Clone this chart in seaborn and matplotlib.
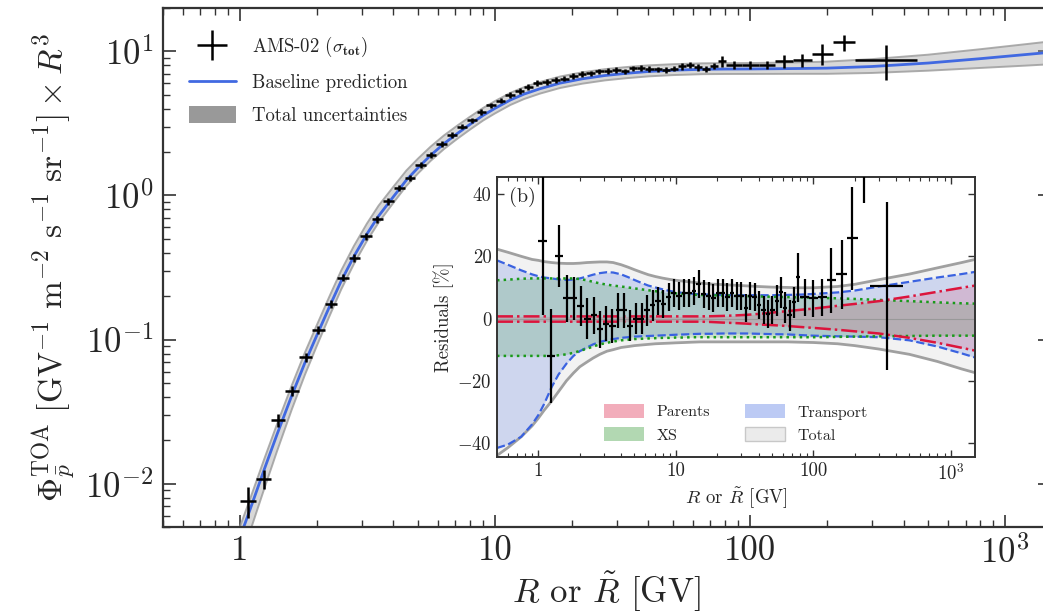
import matplotlib
matplotlib.use('Agg')  # Use non-interactive backend

import matplotlib.pyplot as plt
import matplotlib.ticker as mticker
from matplotlib.patches import Patch
from matplotlib.lines import Line2D
import numpy as np
import pandas as pd
import seaborn as sns

# AMS-02 rigidity bin edges [GV]
rig_edges = [1.00, 1.16, 1.33, 1.51, 1.71, 1.92, 2.15, 2.40, 2.67, 2.97, 3.29, 3.64,
             4.02, 4.43, 4.88, 5.37, 5.90, 6.47, 7.09, 7.76, 8.48, 9.26, 10.1, 11.0,
             12.0, 13.0, 14.1, 15.3, 16.6, 18.0, 19.5, 21.1, 22.8, 24.7, 26.7, 28.8,
             31.1, 33.5, 36.1, 38.9, 41.9, 45.1, 48.5, 52.2, 56.1, 60.3, 64.8, 69.7,
             74.9, 80.5, 93.0, 108.0, 125.0, 147.0, 175.0, 211.0, 259.0, 450.0]

# flux x R^3
ams_flux = [0.00763, 0.01082, 0.0276, 0.0442, 0.0751, 0.1165, 0.176, 0.269, 0.368, 0.519,
            0.684, 0.913, 1.129, 1.319, 1.63, 1.92, 2.267, 2.626, 3.005, 3.322,
            3.791, 4.216, 4.554, 4.973, 5.319, 5.652, 6.038, 6.113, 6.315, 6.475,
            6.778, 6.962, 7.027, 7.264, 7.335, 7.443, 7.266, 7.625, 7.658, 7.555,
            7.490, 7.468, 7.592, 7.861, 8.087, 7.752, 7.585, 7.911, 8.535, 8.063,
            8.041, 8.085, 8.523, 8.691, 9.611, 11.55, 8.737]

# residuals and relative errors [%]
ams_res = [25, -12, 20, 6.5, 6.5, 4, 0, 1, -3.5, -1.6,
           -2.3, 2.6, 2.6, -2.3, 0, 0, 2.6, 4.2, 5.8, 4.8,
           6.8, 8.1, 7.4, 8.1, 8.1, 8.7, 11, 8, 7.4, 6.5,
           8.1, 8.1, 6.8, 8.1, 7.4, 7.4, 3.5, 7.4, 6.8, 4.2,
           2.6, 1.6, 2.6, 5.8, 8.4, 3.5, 1.0, 5.2, 13.2, 6.8,
           6.5, 6.8, 12.3, 14.2, 25.8, 50, 10.6]
ams_err = [24, 15, 10, 7.5, 7, 6.5, 6.5, 6, 6, 5.5,
           5.5, 5.5, 5.5, 5, 5, 5, 5, 5, 4.5, 4.5,
           4.5, 4.5, 4.5, 4.5, 4.5, 4.5, 4.5, 4.5, 4.5, 4.5,
           4.5, 4.5, 4.5, 4.5, 4.5, 4.5, 4.5, 4.5, 4.5, 4.5,
           4.5, 4.5, 4.5, 5, 5, 5, 5, 5, 8, 6,
           6, 6, 10.5, 11, 16.5, 13, 27]

# model curves
model_R = [0.5, 0.6, 0.75, 0.9, 1.0, 1.1, 1.25, 1.4, 1.6, 1.8,
           2.0, 2.25, 2.5, 2.8, 3.15, 3.5, 4.0, 4.5, 5.0, 5.6,
           6.3, 7.1, 8.0, 9.0, 10, 11.5, 13, 15, 18, 22,
           27, 33, 40, 50, 65, 80, 100, 150, 200, 300,
           500, 800, 1200, 1500]
baseline = [3e-5, 1.2e-4, 6e-4, 0.0022, 0.0042, 0.0067, 0.0127, 0.0220, 0.0410, 0.069,
            0.106, 0.170, 0.256, 0.377, 0.54, 0.72, 0.98, 1.28, 1.56, 1.90,
            2.28, 2.68, 3.12, 3.60, 4.02, 4.60, 5.05, 5.50, 6.02, 6.45,
            6.80, 7.05, 7.25, 7.40, 7.51, 7.54, 7.55, 7.60, 7.65, 7.85,
            8.3, 8.9, 9.5, 9.85]
total_hi = [22.3, 21.3, 20.0, 19.0, 18.7, 18.3, 18.0, 17.8, 17.7, 17.7,
            17.8, 18.0, 18.1, 18.2, 18.2, 18.0, 17.3, 16.5, 15.7, 14.9,
            14.1, 13.5, 13.0, 12.6, 12.3, 12.0, 11.7, 11.4, 11.1, 10.9,
            10.7, 10.5, 10.3, 10.1, 10.0, 9.9, 9.9, 10.3, 11.0, 12.5,
            14.3, 16.3, 18.0, 19.0]
total_lo = [-44, -41.5, -38, -34.5, -32, -29.5, -26.5, -23.5, -20, -17.5,
            -15.5, -14, -12.7, -11.5, -10.5, -10, -9.3, -9.0, -8.7, -8.5,
            -8.3, -8.1, -8.0, -7.9, -7.8, -7.7, -7.6, -7.5, -7.5, -7.5,
            -7.5, -7.5, -7.5, -7.5, -7.5, -7.6, -7.7, -8.1, -8.7, -9.8,
            -11.5, -13.8, -16.2, -17.4]
transport_hi = [18.7, 17.3, 15.5, 14.2, 13.6, 13.2, 12.9, 12.6, 12.4, 12.5,
                12.9, 13.5, 14.1, 14.6, 14.9, 14.8, 14.2, 13.3, 12.4, 11.5,
                10.6, 10.0, 9.4, 8.9, 8.5, 8.2, 8.0, 7.8, 7.7, 7.6,
                7.5, 7.5, 7.5, 7.5, 7.6, 7.7, 7.9, 8.4, 9.0, 10.3,
                11.8, 13.2, 14.3, 15.0]
transport_lo = [-41.6, -40.5, -38, -34, -31, -27.5, -22, -18, -14.5, -12,
                -10.5, -9.3, -8.3, -7.5, -7.0, -6.6, -6.2, -6.0, -5.8, -5.7,
                -5.6, -5.5, -5.4, -5.3, -5.2, -5.1, -5.0, -4.9, -4.9, -4.8,
                -4.8, -4.8, -4.9, -5.0, -5.1, -5.3, -5.5, -5.7, -5.8, -6.0,
                -7.0, -9.0, -11.2, -12.5]
xs_hi = [12.3, 12.5, 12.8, 12.9, 12.9, 12.9, 12.9, 12.9, 12.9, 12.9,
         12.7, 12.3, 11.8, 11.3, 10.9, 10.6, 10.3, 10.0, 9.7, 9.4,
         9.1, 8.8, 8.5, 8.3, 8.1, 7.9, 7.7, 7.6, 7.5, 7.4,
         7.3, 7.2, 7.1, 7.0, 6.9, 6.8, 6.7, 6.5, 6.3, 6.0,
         5.6, 5.2, 4.9, 4.8]
xs_lo = [-12.0, -12.0, -12.0, -12.0, -12.0, -12.0, -12.0, -11.8, -11.5, -11.0,
         -10.4, -9.7, -9.0, -8.3, -7.8, -7.4, -7.0, -6.8, -6.6, -6.5,
         -6.4, -6.3, -6.2, -6.2, -6.1, -6.1, -6.0, -6.0, -6.0, -6.0,
         -6.0, -6.0, -6.0, -6.0, -6.0, -6.0, -6.0, -5.9, -5.8, -5.7,
         -5.6, -5.5, -5.5, -5.5]
parents_hi = [0.7] * 28 + [0.75, 0.85, 1.0, 1.2, 1.5, 1.9, 2.4, 2.8, 3.2, 4.1,
                           4.7, 5.6, 7.1, 8.6, 9.9, 10.6]
parents_lo = [-1.0] * 28 + [-1.1, -1.3, -1.45, -1.65, -1.9, -2.1, -2.4, -2.7, -3.0, -3.6,
                            -4.1, -4.8, -6.2, -7.8, -9.4, -10.3]

sns.set_style('ticks')
plt.rcParams.update({
    'font.family': ['cmr10', 'DejaVu Serif'],
    'mathtext.fontset': 'cm',
    'axes.formatter.use_mathtext': True,
    'axes.unicode_minus': False,
})

edges = np.array(rig_edges)
r_lo, r_hi = edges[:-1], edges[1:]
r_c = np.sqrt(r_lo * r_hi)
flux = np.array(ams_flux)
err = np.array(ams_err)

model = pd.DataFrame({'R': model_R, 'base': baseline,
                      'tot_lo': total_lo, 'tot_hi': total_hi,
                      'tr_lo': transport_lo, 'tr_hi': transport_hi,
                      'xs_lo': xs_lo, 'xs_hi': xs_hi,
                      'par_lo': parents_lo, 'par_hi': parents_hi})
band_lo = model['base'] * (1 + model['tot_lo'] / 100)
band_hi = model['base'] * (1 + model['tot_hi'] / 100)

W, H = 1043, 616
fig = plt.figure(figsize=(W / 100, H / 100), dpi=100)

# ---------------- main panel ----------------
ax = fig.add_axes([163 / W, (H - 527) / H, 887 / W, 519 / H])
ax.fill_between(model['R'], band_lo, band_hi, color='0.62', alpha=0.4, lw=0, zorder=1)
ax.plot(model['R'], band_lo, color='0.6', lw=1.4, alpha=0.8, zorder=1)
ax.plot(model['R'], band_hi, color='0.6', lw=1.4, alpha=0.8, zorder=1)
sns.lineplot(data=model, x='R', y='base', ax=ax, color='#4169e1', lw=2,
             legend=False, zorder=2, sort=False)
ax.errorbar(r_c, flux, xerr=[r_c - r_lo, r_hi - r_c], yerr=flux * err / 100,
            fmt='none', ecolor='black', elinewidth=1.8, zorder=3)

ax.set_xscale('log')
ax.set_yscale('log')
ax.set_xlim(0.5, 1500)
ax.set_ylim(0.005, 20)
ax.xaxis.set_major_locator(mticker.FixedLocator([1, 10, 100, 1000]))
ax.xaxis.set_major_formatter(mticker.FixedFormatter(['1', '10', '100', r'$10^3$']))
ax.xaxis.set_minor_locator(mticker.LogLocator(subs=np.arange(2, 10), numticks=20))
ax.xaxis.set_minor_formatter(mticker.NullFormatter())
ax.yaxis.set_major_locator(mticker.FixedLocator([0.01, 0.1, 1, 10]))
ax.yaxis.set_major_formatter(mticker.FixedFormatter(
    [r'$10^{-2}$', r'$10^{-1}$', r'$10^{0}$', r'$10^{1}$']))
ax.yaxis.set_minor_locator(mticker.LogLocator(subs=np.arange(2, 10), numticks=20))
ax.yaxis.set_minor_formatter(mticker.NullFormatter())
ax.tick_params(which='both', direction='in', top=True, right=True, labelsize=25,
               color='#333333')
ax.tick_params(which='major', length=9, width=1.2, pad=7)
ax.tick_params(which='minor', length=5, width=1.0)
ax.tick_params(axis='x', which='major', pad=6)
for s in ax.spines.values():
    s.set_linewidth(1.6)
    s.set_color('#333333')
ax.set_xlabel(r'$R$ or $\tilde{R}$ [GV]', fontsize=25, labelpad=0)
ax.set_ylabel(r'$\Phi_{\bar{p}}^{\rm TOA}\ [{\rm GV}^{-1}\ {\rm m}^{-2}\ {\rm s}^{-1}\ {\rm sr}^{-1}]\times R^3$',
              fontsize=24, labelpad=6)

main_handles = [
    Line2D([], [], color='black', lw=1.8, marker='+', markersize=22, markeredgewidth=1.8,
           linestyle='none'),
    Line2D([], [], color='#4169e1', lw=2),
    Patch(facecolor='0.6', edgecolor='none'),
]
ax.legend(main_handles, [r'AMS-02 ($\sigma_{\mathbf{tot}}$)', 'Baseline prediction',
                         'Total uncertainties'],
          loc='upper left', bbox_to_anchor=(0.01, 0.98), frameon=False, fontsize=13.5,
          handlelength=2.5, handleheight=1.0, labelspacing=0.75, handletextpad=0.9)

# ---------------- inset: residuals ----------------
axin = fig.add_axes([497 / W, (H - 457) / H, 478 / W, 280 / H])
axin.set_facecolor('white')
axin.fill_between(model['R'], model['tot_lo'], model['tot_hi'], color='#f2f2f2', lw=0)
sns.lineplot(data=model, x='R', y='tot_lo', ax=axin, color='#a0a0a0', lw=2, legend=False, sort=False)
sns.lineplot(data=model, x='R', y='tot_hi', ax=axin, color='#a0a0a0', lw=2, legend=False, sort=False)
axin.fill_between(model['R'], model['tr_lo'], model['tr_hi'], color='royalblue', alpha=0.2, lw=0)
sns.lineplot(data=model, x='R', y='tr_lo', ax=axin, color='#3a62e0', lw=1.6, ls='--', legend=False, sort=False)
sns.lineplot(data=model, x='R', y='tr_hi', ax=axin, color='#3a62e0', lw=1.6, ls='--', legend=False, sort=False)
axin.fill_between(model['R'], model['xs_lo'], model['xs_hi'], color='green', alpha=0.15, lw=0)
sns.lineplot(data=model, x='R', y='xs_lo', ax=axin, color='#1a9a1a', lw=1.8, ls=':', legend=False, sort=False)
sns.lineplot(data=model, x='R', y='xs_hi', ax=axin, color='#1a9a1a', lw=1.8, ls=':', legend=False, sort=False)
axin.fill_between(model['R'], model['par_lo'], model['par_hi'], color='crimson', alpha=0.15, lw=0)
sns.lineplot(data=model, x='R', y='par_lo', ax=axin, color='crimson', lw=1.8, ls='-.', legend=False, sort=False)
sns.lineplot(data=model, x='R', y='par_hi', ax=axin, color='crimson', lw=1.8, ls='-.', legend=False, sort=False)
axin.axhline(0, color='0.6', lw=0.8)
axin.errorbar(r_c, ams_res, xerr=[r_c - r_lo, r_hi - r_c], yerr=err,
              fmt='none', ecolor='black', elinewidth=1.6, zorder=5)

axin.set_xscale('log')
axin.set_xlim(0.5, 1500)
axin.set_ylim(-44.5, 45.5)
axin.xaxis.set_major_locator(mticker.FixedLocator([1, 10, 100, 1000]))
axin.xaxis.set_major_formatter(mticker.FixedFormatter(['1', '10', '100', r'$10^3$']))
axin.xaxis.set_minor_locator(mticker.LogLocator(subs=np.arange(2, 10), numticks=20))
axin.xaxis.set_minor_formatter(mticker.NullFormatter())
axin.yaxis.set_major_locator(mticker.FixedLocator([-40, -20, 0, 20, 40]))
axin.yaxis.set_major_formatter(mticker.FixedFormatter([r'$-40$', r'$-20$', '0', '20', '40']))
axin.tick_params(which='both', direction='in', top=True, right=True, labelsize=13.5,
                 color='#333333')
axin.tick_params(which='major', length=5, width=1.0, pad=4)
axin.tick_params(which='minor', length=3, width=0.8)
for s in axin.spines.values():
    s.set_linewidth(1.4)
    s.set_color('#333333')
axin.set_xlabel(r'$R$ or $\tilde{R}$ [GV]', fontsize=13.5, labelpad=2)
axin.set_ylabel('Residuals [%]', fontsize=13.5, labelpad=2)
axin.text(0.025, 0.93, '(b)', transform=axin.transAxes, fontsize=14.5, va='center')

in_handles = [Patch(facecolor='crimson', alpha=0.35, lw=0),
              Patch(facecolor='green', alpha=0.3, lw=0),
              Patch(facecolor='royalblue', alpha=0.35, lw=0),
              Patch(facecolor='#ebebeb', edgecolor='#c8c8c8', lw=1)]
axin.legend(in_handles, ['Parents', 'XS', 'Transport', 'Total'], ncol=2,
            loc='lower center', bbox_to_anchor=(0.5, 0.0), frameon=False, fontsize=11.5,
            handlelength=2.5, handleheight=0.9, columnspacing=2.2, labelspacing=0.5)

fig.savefig('out.png', dpi=100)
plt.close('all')
